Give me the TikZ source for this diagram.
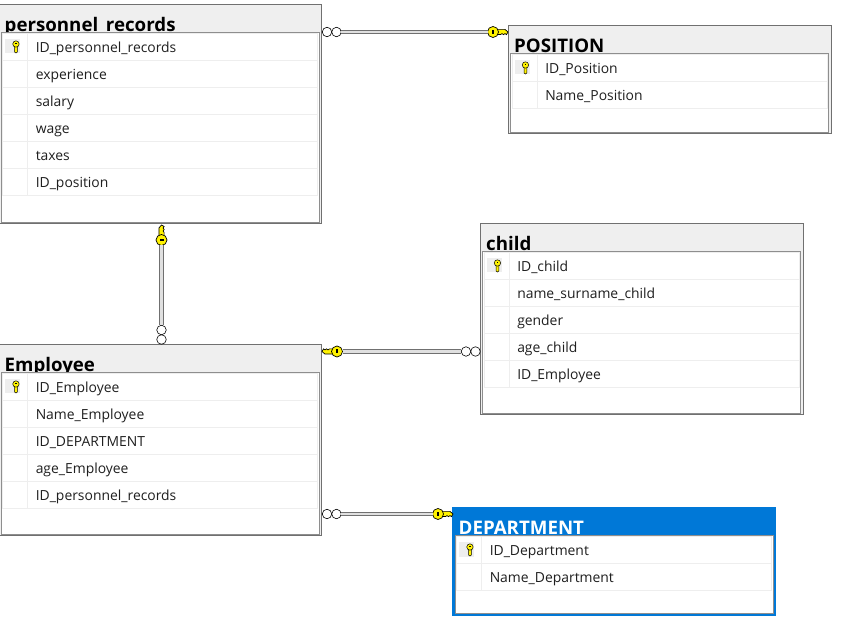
\documentclass[tikz,border=0pt]{standalone}
\usepackage{fontspec}
\setmainfont{Open Sans}
\usetikzlibrary{positioning}
\definecolor{framegray}{HTML}{707070}
\definecolor{innergray}{HTML}{8E8E8E}
\definecolor{bandgray}{HTML}{EFEFEF}
\definecolor{rowgray}{HTML}{EEEEEE}
\definecolor{keyyellow}{HTML}{FFF200}
\definecolor{selblue}{HTML}{0078D7}

\begin{document}
\begin{tikzpicture}[
    x=1pt, y=-1pt,
    tbl/.style={rectangle, draw=framegray, fill=bandgray, line width=1pt, outer sep=0pt, minimum width=322.5pt, anchor=north west},
    tblsel/.style={tbl, draw=selblue, fill=selblue, line width=1.2pt},
    tblin/.style={rectangle, draw=innergray, fill=white, line width=0.9pt, outer sep=0pt, minimum width=318pt},
    tbltitle/.style={anchor=base west, inner sep=0pt, font=\fontsize{18.7}{20}\selectfont\bfseries, text=black},
    dbrow/.style={rectangle, draw=rowgray, line width=0.8pt, outer sep=0pt, inner ysep=0pt, inner xsep=33pt,
                  minimum width=315pt, minimum height=27pt, text width=249pt, align=left,
                  text height=13pt, text depth=1pt, font=\fontsize{13.9}{15}\selectfont, text=black!88},
    divider/.style={draw=rowgray, line width=0.8pt},
    keycell/.style={rectangle, fill=rowgray, minimum width=15pt, minimum height=14pt, inner sep=0pt},
    ringend/.style={circle, draw=black, fill=white, line width=0.6pt, minimum size=9.5pt, inner sep=0pt, outer sep=0pt},
    rel/.style={draw=framegray, line width=1.2pt, double=white!88!black, double distance=2.4pt},
    bigkey/.pic={
      \filldraw[fill=keyyellow, draw=black, line width=0.7pt] (3,-2.6) -- (12,-2.6) -- (15,0) -- (13.5,2.6) -- (12,1.6) -- (10.5,2.6) -- (9,1.6) -- (7.5,2.6) -- (3,2.6) -- cycle;
      \node[circle, draw=black, fill=keyyellow, line width=0.7pt, minimum size=11pt, inner sep=0pt, outer sep=0pt] (-head) at (0,0) {};
      \fill[black] (-1,-2) rectangle (1,2);
    },
    smallkey/.pic={
      \filldraw[fill=keyyellow, draw=black, line width=0.5pt] (-1.4,-1) -- (1.4,-1) -- (1.4,5.5) -- (0,6.5) -- (-1.4,5.5) -- cycle;
      \filldraw[fill=keyyellow, draw=black, line width=0.5pt] (0,-2.5) circle (3.2pt);
      \fill[black] (-0.7,-3.4) rectangle (0.7,-2.2);
    },
  ]
    \useasboundingbox (0,0) rectangle (844,617);

    % personnel_records
    \node[tbl, minimum height=219.5pt] (pers) at (-1,4.5) {};
    \node[tbltitle] (perstitle) at ([xshift=5.5pt,yshift=-27pt]pers.north west) {personnel\_records};
    \node[tblin, minimum height=190pt, above=2pt of pers.south] (persin) {};
    \node[dbrow, below=1pt of persin.north] (pers1) {ID\_personnel\_records};
    \node[dbrow, below=0pt of pers1] (pers2) {experience};
    \node[dbrow, below=0pt of pers2] (pers3) {salary};
    \node[dbrow, below=0pt of pers3] (pers4) {wage};
    \node[dbrow, below=0pt of pers4] (pers5) {taxes};
    \node[dbrow, below=0pt of pers5] (pers6) {ID\_position};
    \draw[divider] ([xshift=25pt]pers1.north west) -- ([xshift=25pt]pers6.south west);
    \node[keycell, right=2.5pt of pers1.west] (perskey) {};
    \pic at ([xshift=3pt]perskey) {smallkey};

    % POSITION
    \node[tbl, minimum height=108.5pt] (pos) at (508.5,25.5) {};
    \node[tbltitle] (postitle) at ([xshift=5.5pt,yshift=-27pt]pos.north west) {POSITION};
    \node[tblin, minimum height=79pt, above=2pt of pos.south] (posin) {};
    \node[dbrow, below=1pt of posin.north] (pos1) {ID\_Position};
    \node[dbrow, below=0pt of pos1] (pos2) {Name\_Position};
    \draw[divider] ([xshift=25pt]pos1.north west) -- ([xshift=25pt]pos2.south west);
    \node[keycell, right=2.5pt of pos1.west] (poskey) {};
    \pic at ([xshift=3pt]poskey) {smallkey};

    % child
    \node[tbl, minimum height=191.5pt] (child) at (480.5,223.5) {};
    \node[tbltitle] (childtitle) at ([xshift=5.5pt,yshift=-27pt]child.north west) {child};
    \node[tblin, minimum height=162pt, above=2pt of child.south] (childin) {};
    \node[dbrow, below=1pt of childin.north] (child1) {ID\_child};
    \node[dbrow, below=0pt of child1] (child2) {name\_surname\_child};
    \node[dbrow, below=0pt of child2] (child3) {gender};
    \node[dbrow, below=0pt of child3] (child4) {age\_child};
    \node[dbrow, below=0pt of child4] (child5) {ID\_Employee};
    \draw[divider] ([xshift=25pt]child1.north west) -- ([xshift=25pt]child5.south west);
    \node[keycell, right=2.5pt of child1.west] (childkey) {};
    \pic at ([xshift=3pt]childkey) {smallkey};

    % Employee
    \node[tbl, minimum height=191.5pt] (emp) at (-1,344.5) {};
    \node[tbltitle] (emptitle) at ([xshift=5.5pt,yshift=-27pt]emp.north west) {Employee};
    \node[tblin, minimum height=162pt, above=2pt of emp.south] (empin) {};
    \node[dbrow, below=1pt of empin.north] (emp1) {ID\_Employee};
    \node[dbrow, below=0pt of emp1] (emp2) {Name\_Employee};
    \node[dbrow, below=0pt of emp2] (emp3) {ID\_DEPARTMENT};
    \node[dbrow, below=0pt of emp3] (emp4) {age\_Employee};
    \node[dbrow, below=0pt of emp4] (emp5) {ID\_personnel\_records};
    \draw[divider] ([xshift=25pt]emp1.north west) -- ([xshift=25pt]emp5.south west);
    \node[keycell, right=2.5pt of emp1.west] (empkey) {};
    \pic at ([xshift=3pt]empkey) {smallkey};

    % DEPARTMENT
    \node[tblsel, minimum height=107.5pt] (dept) at (453,508) {};
    \node[tbltitle, text=white] (depttitle) at ([xshift=5.5pt,yshift=-26.5pt]dept.north west) {DEPARTMENT};
    \node[tblin, minimum height=78pt, above=2.5pt of dept.south] (deptin) {};
    \node[dbrow, below=1pt of deptin.north] (dept1) {ID\_Department};
    \node[dbrow, below=0pt of dept1] (dept2) {Name\_Department};
    \draw[divider] ([xshift=25pt]dept1.north west) -- ([xshift=25pt]dept2.south west);
    \node[keycell, right=2.5pt of dept1.west] (deptkey) {};
    \pic at ([xshift=3pt]deptkey) {smallkey};

    % relations
    \node[ringend] (ringa) at (327,32) {};
    \node[ringend, right=0pt of ringa] (ringb) {};
    \pic (keya) at (493,32) {bigkey};
    \draw[rel] (ringb) -- (keya-head);

    \pic[rotate=90] (keyb) at (161.5,240) {bigkey};
    \node[ringend] (ringc) at (161.5,339.5) {};
    \node[ringend, above=0pt of ringc] (ringd) {};
    \draw[rel] (keyb-head) -- (ringd);

    \pic[rotate=180] (keyc) at (337,351.5) {bigkey};
    \node[ringend] (ringe) at (475.5,351.5) {};
    \node[ringend, left=0pt of ringe] (ringf) {};
    \draw[rel] (keyc-head) -- (ringf);

    \node[ringend] (ringg) at (327,514) {};
    \node[ringend, right=0pt of ringg] (ringh) {};
    \pic (keyd) at (438,514) {bigkey};
    \draw[rel] (ringh) -- (keyd-head);
  \end{tikzpicture}
\end{document}
